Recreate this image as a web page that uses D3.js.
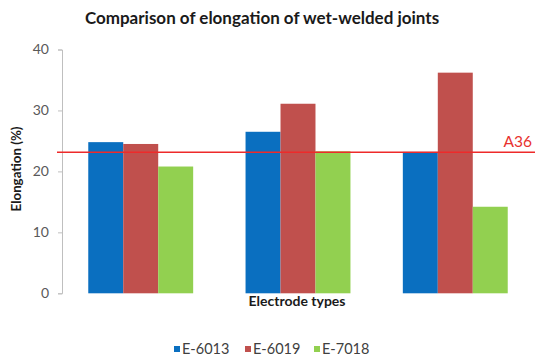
<!DOCTYPE html>
<html>
<head>
<meta charset="utf-8">
<script src="https://cdn.jsdelivr.net/npm/d3@7"></script>
<style>
  html, body { margin: 0; padding: 0; background: #fff; }
  svg { display: block; font-family: Lato, "Open Sans", sans-serif; }
</style>
</head>
<body>
<svg id="chart" width="535" height="356"></svg>
<script>
// Elongation (%) of wet-welded joints for three electrode types
const groups = ["G1", "G2", "G3"];
const seriesNames = ["E-6013", "E-6019", "E-7018"];
const seriesColors = ["#0a6fc0", "#c0504d", "#92d050"];
const e6013 = [24.8, 26.5, 23.2];
const e6019 = [24.5, 31.1, 36.2];
const e7018 = [20.8, 23.3, 14.2];
const yTicks = [0, 10, 20, 30, 40];
const a36Limit = 23.15;

const seriesValues = [e6013, e6019, e7018];

const svg = d3.select("#chart");
const margin = { left: 62, right: 1, top: 49.5, bottom: 62.7 };
const W = 535, H = 356;

const x0 = d3.scaleBand().domain(groups)
  .range([margin.left, W - margin.right])
  .paddingInner(0.333).paddingOuter(0.167);
const x1 = d3.scaleBand().domain(seriesNames).range([0, x0.bandwidth()]);
const y = d3.scaleLinear().domain([0, 40]).range([H - margin.bottom, margin.top]);

// Title
svg.append("text")
  .attr("x", 262).attr("y", 24)
  .attr("text-anchor", "middle")
  .attr("font-size", 17).attr("font-weight", "bold").attr("fill", "#1a1a1a")
  .text("Comparison of elongation of wet-welded joints");

// Y axis
const yAxis = svg.append("g")
  .attr("transform", `translate(${margin.left},0)`)
  .call(d3.axisLeft(y).tickValues(yTicks).tickSize(4).tickPadding(9).tickSizeOuter(4));
yAxis.select(".domain").attr("stroke", "#bfbfbf");
yAxis.selectAll(".tick line").attr("stroke", "#bfbfbf");
yAxis.selectAll(".tick text").attr("font-size", 14).attr("fill", "#595959")
  .attr("font-family", "Lato, 'Open Sans', sans-serif");

// Bars
const gGroups = svg.append("g").selectAll("g")
  .data(groups).join("g")
  .attr("transform", d => `translate(${x0(d)},0)`);
gGroups.selectAll("rect")
  .data((g, gi) => seriesNames.map((s, si) => ({ s, si, v: seriesValues[si][gi] })))
  .join("rect")
  .attr("x", d => x1(d.s))
  .attr("width", x1.bandwidth())
  .attr("y", d => y(d.v))
  .attr("height", d => y(0) - y(d.v))
  .attr("fill", d => seriesColors[d.si]);

// A36 reference line
svg.append("line")
  .attr("x1", 57).attr("x2", W)
  .attr("y1", y(a36Limit)).attr("y2", y(a36Limit))
  .attr("stroke", "#ee2a2a").attr("stroke-width", 1.6);
svg.append("text")
  .attr("x", 532).attr("y", y(a36Limit) - 5)
  .attr("text-anchor", "end")
  .attr("font-size", 15.5).attr("fill", "#e8322e")
  .text("A36");

// Axis titles
svg.append("text")
  .attr("x", 297).attr("y", 306)
  .attr("text-anchor", "middle")
  .attr("font-size", 14).attr("font-weight", "bold").attr("fill", "#1a1a1a")
  .text("Electrode types");
svg.append("text")
  .attr("transform", "translate(21,169) rotate(-90)")
  .attr("text-anchor", "middle")
  .attr("font-size", 13.3).attr("font-weight", "bold").attr("fill", "#1a1a1a")
  .text("Elongation (%)");

// Legend
const legendX = [174, 245, 314];
const legend = svg.append("g").selectAll("g")
  .data(seriesNames).join("g")
  .attr("transform", (d, i) => `translate(${legendX[i]},346)`);
legend.append("rect")
  .attr("width", 6).attr("height", 6)
  .attr("fill", (d, i) => seriesColors[i]);
legend.append("text")
  .attr("x", 8).attr("y", 7.5)
  .attr("font-size", 14.5).attr("fill", "#404040")
  .text(d => d);
</script>
</body>
</html>
